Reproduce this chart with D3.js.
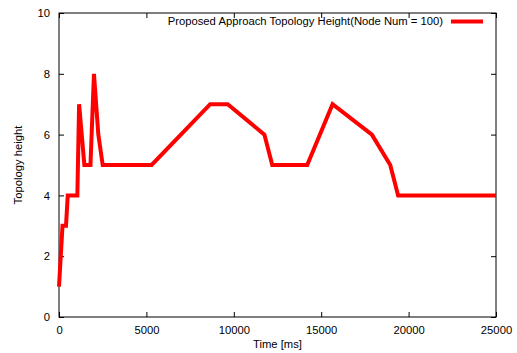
<!DOCTYPE html>
<html lang="en">
<head>
<meta charset="UTF-8">
<title>Topology Height</title>
<script src="https://d3js.org/d3.v7.min.js"></script>
<style>
    body { margin: 0; background: #fff; }
    svg text { font-family: "Liberation Sans", Arial, sans-serif; font-size: 11.25px; fill: #000; }
</style>
</head>
<body>
<div id="chart"></div>
<script>
    // values
    const timeMs = [0, 200, 400, 500, 1050, 1150, 1450, 1800, 2000, 2250, 2500, 5300,
        8650, 9650, 11750, 12200, 14200, 15650, 17900, 18950, 19400, 25000];
    const heights = [1, 3, 3, 4, 4, 7, 5, 5, 8, 6, 5, 5,
        7, 7, 6, 5, 5, 7, 6, 5, 4, 4];
    const xTicks = [0, 5000, 10000, 15000, 20000, 25000];
    const yTicks = [0, 2, 4, 6, 8, 10];
    const seriesName = "Proposed Approach Topology Height(Node Num = 100)";

    const W = 517, H = 353;
    const margin = { top: 13, right: 21, bottom: 36, left: 59 };
    const width = W - margin.left - margin.right,
        height = H - margin.top - margin.bottom;

    const svg = d3.select("#chart").append("svg")
        .attr("width", W).attr("height", H);
    const g = svg.append("g")
        .attr("transform", `translate(${margin.left},${margin.top})`);

    const x = d3.scaleLinear().domain([0, 25000]).range([0, width]);
    const y = d3.scaleLinear().domain([0, 10]).range([height, 0]);

    const tick = 5;

    // bottom / left axes with inward ticks
    const xAxis = g.append("g").attr("transform", `translate(0,${height})`)
        .call(d3.axisBottom(x).tickValues(xTicks).tickFormat(d3.format("d"))
            .tickSizeInner(-tick).tickSizeOuter(0).tickPadding(9));
    const yAxis = g.append("g")
        .call(d3.axisLeft(y).tickValues(yTicks).tickFormat(d3.format("d"))
            .tickSizeInner(-tick).tickSizeOuter(0).tickPadding(9));
    // mirrored ticks on top / right
    const xTop = g.append("g")
        .call(d3.axisTop(x).tickValues(xTicks).tickSizeInner(-tick).tickSizeOuter(0).tickFormat(""));
    const yRight = g.append("g").attr("transform", `translate(${width},0)`)
        .call(d3.axisRight(y).tickValues(yTicks).tickSizeInner(-tick).tickSizeOuter(0).tickFormat(""));

    [xAxis, yAxis, xTop, yRight].forEach(a => {
        a.select(".domain").remove();
        a.selectAll("line").attr("stroke", "#000");
        a.selectAll("text").attr("font-size", 11.25).attr("font-family", "Liberation Sans, Arial, sans-serif");
    });

    // frame
    g.append("rect")
        .attr("width", width).attr("height", height)
        .attr("fill", "none").attr("stroke", "#000").attr("stroke-width", 1);

    // series
    const data = timeMs.map((t, i) => ({ t: t, h: heights[i] }));
    g.append("path")
        .datum(data)
        .attr("fill", "none")
        .attr("stroke", "#ff0000")
        .attr("stroke-width", 4)
        .attr("stroke-linejoin", "miter")
        .attr("d", d3.line().x(d => x(d.t)).y(d => y(d.h)));

    // legend
    const legend = g.append("g").attr("transform", `translate(0,${21.5 - margin.top})`);
    legend.append("text")
        .attr("x", 443 - margin.left).attr("y", 0).attr("dy", "0.35em")
        .attr("text-anchor", "end")
        .text(seriesName);
    legend.append("line")
        .attr("x1", 451 - margin.left).attr("x2", 483 - margin.left)
        .attr("stroke", "#ff0000").attr("stroke-width", 4);

    // axis titles
    svg.append("text")
        .attr("x", margin.left + width / 2).attr("y", 348)
        .attr("text-anchor", "middle")
        .text("Time [ms]");
    svg.append("text")
        .attr("transform", `translate(22,${margin.top + height / 2}) rotate(-90)`)
        .attr("text-anchor", "middle")
        .text("Topology height");
</script>
</body>
</html>
